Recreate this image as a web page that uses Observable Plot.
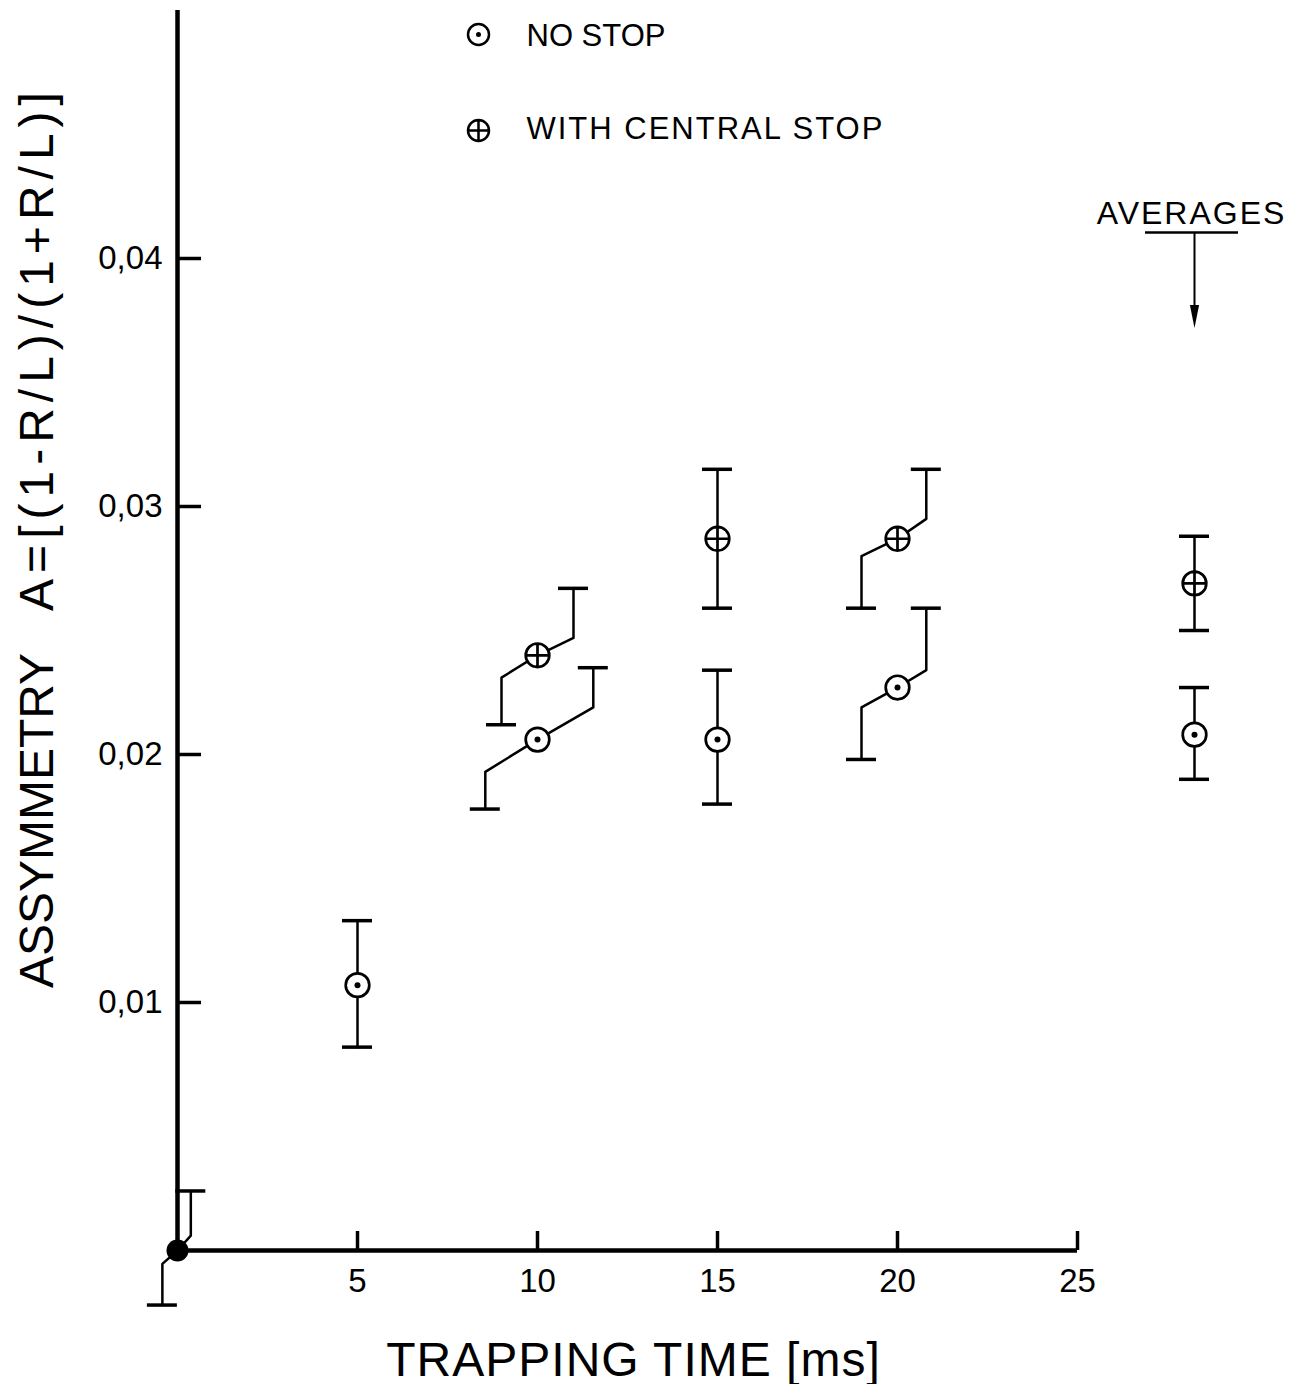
<!DOCTYPE html>
<html><head><meta charset="utf-8">
<script src="https://cdn.jsdelivr.net/npm/d3@7"></script>
<script src="https://cdn.jsdelivr.net/npm/@observablehq/plot@0.6"></script>
<style>
html,body{margin:0;padding:0;background:#fff;}
svg{display:block;}
</style>
</head><body><div id="chart"></div>
<script>
// ---------- data ----------
const seriesNames = ["NO STOP", "WITH CENTRAL STOP"];
const xTickValues = [5, 10, 15, 20, 25];
const yTickValues = [0.01, 0.02, 0.03, 0.04];
const yTickLabels = ["0,01", "0,02", "0,03", "0,04"];
const averagesLabel = "AVERAGES";
const xTitle = "TRAPPING TIME [ms]";
const yTitleWord = "ASSYMMETRY";
const yTitleFormula = "A=[(1-R/L)/(1+R/L)]";
const xDomain = [0, 25];
const yDomain = [0, 0.05];
const averagesTime = 28.25;

// no stop
const noStopTime     = [5, 10, 15, 20, 28.25];
const noStopA        = [0.0107, 0.0206, 0.0206, 0.0227, 0.0208];
const noStopLow      = [0.0082, 0.0178, 0.0180, 0.0198, 0.0190];
const noStopHigh     = [0.0133, 0.0235, 0.0234, 0.0259, 0.0227];
const noStopLowTime  = [5, 8.55, 15, 19.0, 28.25];
const noStopHighTime = [5, 11.55, 15, 20.8, 28.25];
const noStopLowKnee  = [0.0107, 0.0193, 0.0206, 0.0219, 0.0208];
const noStopHighKnee = [0.0107, 0.0219, 0.0206, 0.0234, 0.0208];

// with central stop
const stopTime     = [10, 15, 20, 28.25];
const stopA        = [0.0240, 0.0287, 0.0287, 0.0269];
const stopLow      = [0.0212, 0.0259, 0.0259, 0.0250];
const stopHigh     = [0.0267, 0.0315, 0.0315, 0.0288];
const stopLowTime  = [9.0, 15, 19.0, 28.25];
const stopHighTime = [11.0, 15, 20.8, 28.25];
const stopLowKnee  = [0.0231, 0.0287, 0.0280, 0.0269];
const stopHighKnee = [0.0247, 0.0287, 0.0295, 0.0269];

// reference point at origin
const originTime     = [0];
const originA        = [0];
const originLow      = [-0.0022];
const originHigh     = [0.0024];
const originLowTime  = [-0.42];
const originHighTime = [0.37];
const originLowKnee  = [-0.00054];
const originHighKnee = [0.0006];

// ---------- tables ----------
function build(name, t, a, lo, hi, loT, hiT, loK, hiK) {
  return t.map((x, i) => ({series: name, id: name + i, x, y: a[i], lo: lo[i], hi: hi[i],
    loT: loT[i], hiT: hiT[i], loK: loK[i], hiK: hiK[i]}));
}
const noStop = build("nostop", noStopTime, noStopA, noStopLow, noStopHigh, noStopLowTime, noStopHighTime, noStopLowKnee, noStopHighKnee);
const withStop = build("stop", stopTime, stopA, stopLow, stopHigh, stopLowTime, stopHighTime, stopLowKnee, stopHighKnee);
const origin = build("origin", originTime, originA, originLow, originHigh, originLowTime, originHighTime, originLowKnee, originHighKnee);
const all = [...noStop, ...withStop, ...origin];

const errPath = all.flatMap(d => [
  {id: d.id, x: d.loT, y: d.lo},
  {id: d.id, x: d.loT, y: d.loK},
  {id: d.id, x: d.x, y: d.y},
  {id: d.id, x: d.hiT, y: d.hiK},
  {id: d.id, x: d.hiT, y: d.hi}
]);
const caps = all.flatMap(d => [{x: d.loT, y: d.lo}, {x: d.hiT, y: d.hi}]);

// ---------- symbols ----------
const circlePlus = {
  draw(ctx, size) {
    const r = Math.sqrt(size / Math.PI);
    ctx.moveTo(r, 0);
    ctx.arc(0, 0, r, 0, 2 * Math.PI);
    ctx.moveTo(-r, 0); ctx.lineTo(r, 0);
    ctx.moveTo(0, -r); ctx.lineTo(0, r);
  }
};
const arrowHead = {
  draw(ctx, size) {
    const r = Math.sqrt(size / Math.PI);
    ctx.moveTo(-r * 0.4, -r);
    ctx.lineTo(r * 0.4, -r);
    ctx.lineTo(0, r);
    ctx.closePath();
  }
};

const FONT = "Liberation Sans, Arial, sans-serif";

const chart = Plot.plot({
  width: 1293, height: 1384,
  marginLeft: 177, marginRight: 216, marginTop: 10, marginBottom: 134,
  x: {domain: xDomain},
  y: {domain: yDomain},
  style: {fontFamily: FONT, background: "white", color: "black", overflow: "visible"},
  marks: [
    // axes lines
    Plot.ruleX([0], {strokeWidth: 4.5}),
    Plot.ruleY([0], {strokeWidth: 4.5}),
    // inward ticks
    Plot.ruleX(xTickValues, {x: d => d, y1: 0, y2: 0, insetBottom: 19, strokeWidth: 3.5}),
    Plot.ruleY(yTickValues, {y: d => d, x1: 0, x2: 0, insetRight: -24, strokeWidth: 3.5}),
    // tick labels
    Plot.axisX(xTickValues, {tickSize: 0, tickPadding: 18, fontSize: 33, label: null, tickFormat: d => String(d)}),
    Plot.axisY(yTickValues, {tickSize: 0, tickPadding: 15, fontSize: 33, label: null,
      tickFormat: d => yTickLabels[yTickValues.indexOf(d)]}),
    // axis titles
    Plot.text([xTitle], {frameAnchor: "bottom", textAnchor: "middle", lineAnchor: "middle", dx: 6, dy: 110, fontSize: 48}),
    Plot.text([yTitleWord], {frameAnchor: "left", textAnchor: "middle", lineAnchor: "middle", rotate: -90, dx: -140, dy: 190, fontSize: 48}),
    Plot.text([yTitleFormula], {frameAnchor: "left", textAnchor: "middle", lineAnchor: "middle", rotate: -90, dx: -140, dy: -282, fontSize: 48}),
    // error bars
    Plot.line(errPath, {x: "x", y: "y", z: "id", stroke: "black", strokeWidth: 2.5, curve: "linear"}),
    Plot.ruleY(caps, {y: "y", x1: "x", x2: "x", insetLeft: -15, insetRight: -15, strokeWidth: 3.5}),
    // markers
    Plot.dot(noStop, {x: "x", y: "y", r: 11.8, fill: "white", stroke: "black", strokeWidth: 2.7}),
    Plot.dot(noStop, {x: "x", y: "y", r: 3, fill: "black"}),
    Plot.dot(withStop, {x: "x", y: "y", r: 11.8, symbol: circlePlus, fill: "white", stroke: "black", strokeWidth: 2.7}),
    Plot.dot(origin, {x: "x", y: "y", r: 11, fill: "black"}),
    // legend
    Plot.dot([seriesNames[0]], {frameAnchor: "top-left", dx: 301, dy: 24, r: 10.5, fill: "white", stroke: "black", strokeWidth: 2.5}),
    Plot.dot([seriesNames[0]], {frameAnchor: "top-left", dx: 301, dy: 24, r: 2.5, fill: "black"}),
    Plot.dot([seriesNames[1]], {frameAnchor: "top-left", dx: 301, dy: 120, r: 10.5, symbol: circlePlus, fill: "white", stroke: "black", strokeWidth: 2.5}),
    Plot.text([seriesNames[0]], {frameAnchor: "top-left", dx: 349, dy: 26, textAnchor: "start", lineAnchor: "middle", fontSize: 31}),
    Plot.text([seriesNames[1]], {frameAnchor: "top-left", dx: 349, dy: 119, textAnchor: "start", lineAnchor: "middle", fontSize: 31}),
    // averages annotation
    Plot.text([averagesLabel], {x: () => averagesTime, frameAnchor: "top", textAnchor: "middle", lineAnchor: "middle", dx: -3, dy: 203, fontSize: 32}),
    Plot.ruleY([yDomain[1]], {x1: () => averagesTime, x2: () => averagesTime, dy: 222, insetLeft: -49, insetRight: -44, strokeWidth: 2.5}),
    Plot.ruleX([averagesTime], {x: d => d, insetTop: 222, insetBottom: 938, strokeWidth: 2}),
    Plot.dot([averagesTime], {x: d => d, frameAnchor: "top", dy: 306, r: 11.5, symbol: arrowHead, fill: "black"})
  ]
});

// letter spacing tweaks for the lettering
const spacing = {};
spacing[xTitle] = "1px";
spacing[yTitleFormula] = "6px";
spacing[seriesNames[1]] = "2px";
spacing[averagesLabel] = "2px";
d3.select(chart).selectAll("text").each(function () {
  const s = spacing[this.textContent];
  if (s) this.style.letterSpacing = s;
});

document.getElementById("chart").appendChild(chart);
</script>
</body></html>
